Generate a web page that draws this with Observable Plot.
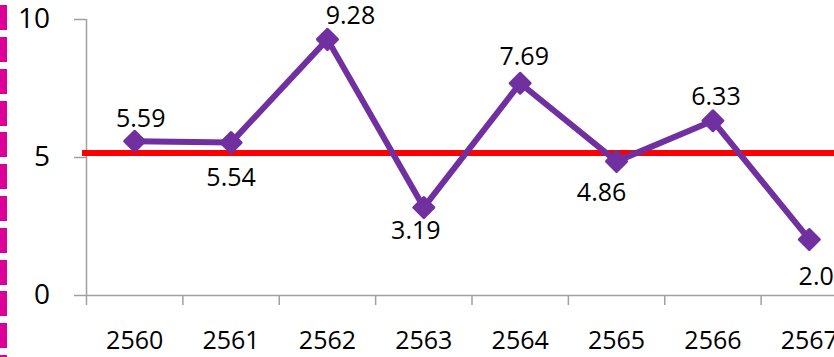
<!DOCTYPE html>
<html>
<head>
<meta charset="utf-8">
<script src="https://cdn.jsdelivr.net/npm/d3@7"></script>
<script src="https://cdn.jsdelivr.net/npm/@observablehq/plot@0.6"></script>
<style>
  html, body { margin: 0; padding: 0; background: #fff; overflow: hidden; width: 834px; height: 357px; }
  #wrap { position: relative; width: 834px; height: 357px; }
  #deco { position: absolute; left: 0; top: 0; width: 7px; height: 357px;
    background: repeating-linear-gradient(to bottom, transparent 0 5.2px, #DC0096 5.2px 30.2px, transparent 30.2px 31.8px); }
  #chart { position: absolute; left: 0; top: 0; }
  #chart svg { overflow: hidden; }
</style>
</head>
<body>
<div id="wrap"><div id="chart"></div><div id="deco"></div></div>
<script>
// ---- data ----
const years = ["2560", "2561", "2562", "2563", "2564", "2565", "2566", "2567"];
const values = [5.59, 5.54, 9.28, 3.19, 7.69, 4.86, 6.33, 2.03];
const target = 5.16;
const yTicks = [0, 5, 10];

// ---- label layout nudges (pixels, relative to each point) ----
const labelDx = [6, 0, 23, -8, 4, -15, 3, 14];
const labelDy = [-22, 35, -23, 24, -26, 32, -24, 38];

const gray = "#a0a0a0";
const purple = "#7030A0";

const data = years.map((year, i) => ({ year, value: values[i], pos: i + 0.5 }));
const centers = years.map((_, i) => i + 0.5);
const bounds = d3.range(0, years.length + 1);

const labelMarks = data.map((d, i) =>
  Plot.text([d], {
    x: "pos", y: "value",
    text: (v) => v.value.toFixed(2),
    dx: labelDx[i], dy: labelDy[i],
    fontSize: 25, fill: "#000"
  })
);

const chart = Plot.plot({
  width: 834,
  height: 357,
  marginTop: 19,
  marginBottom: 62,
  marginLeft: 86,
  marginRight: 0,
  style: { fontFamily: "'Open Sans', 'Noto Sans', sans-serif", fontSize: "25px", color: "#000", background: "#fff" },
  x: { type: "linear", domain: [0, years.length], range: [86, 857], label: null },
  y: { domain: [0, 10], label: null },
  marks: [
    // axes
    Plot.axisY(yTicks, { tickSize: 12, tickPadding: 24.5, fontSize: 28, stroke: gray, strokeWidth: 1.5, fill: "#000", label: null }),
    Plot.axisX(centers, { tickFormat: (d) => years[Math.floor(d)], tickSize: 0, tickPadding: 36, fontSize: 25, fill: "#000", label: null }),
    Plot.axisX(bounds, { tickFormat: () => "", tickSize: 10, stroke: gray, strokeWidth: 1.5, label: null }),
    Plot.ruleX([0], { y1: 0, y2: 10, stroke: gray, strokeWidth: 1.5 }),
    Plot.ruleY([0], { stroke: gray, strokeWidth: 1.5 }),
    // target line
    Plot.ruleY([target], { stroke: "#ff0000", strokeWidth: 6, insetLeft: -4 }),
    // series
    Plot.line(data, { x: "pos", y: "value", stroke: purple, strokeWidth: 6, strokeLinejoin: "round" }),
    Plot.dot(data, { x: "pos", y: "value", symbol: "diamond2", r: 9, fill: purple, stroke: purple, strokeWidth: 3, strokeLinejoin: "round" }),
    ...labelMarks
  ]
});

document.getElementById("chart").appendChild(chart);
</script>
</body>
</html>
